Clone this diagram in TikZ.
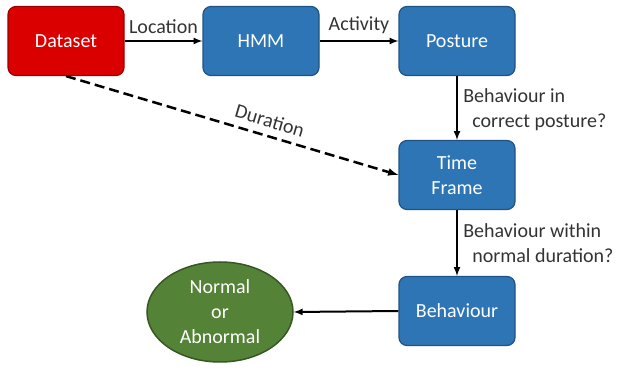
\documentclass[tikz,border=0pt]{standalone}
\usepackage{fontspec}
\setmainfont{Carlito}
\usetikzlibrary{arrows, positioning, shapes.geometric}
\usepackage{color}
\definecolor{datared}{rgb}{0.86, 0.0, 0.0}
\definecolor{datareddark}{rgb}{0.6, 0.0, 0.0}
\definecolor{stepblue}{rgb}{0.18, 0.46, 0.71}
\definecolor{stepbluedark}{rgb}{0.12, 0.32, 0.52}
\definecolor{resultgreen}{rgb}{0.33, 0.51, 0.21}
\definecolor{resultgreendark}{rgb}{0.22, 0.34, 0.14}

\begin{document}
\begin{tikzpicture}[x=1pt, y=1pt,
		every node/.style={font=\fontsize{20}{25}\selectfont},
		flowbox/.style={rectangle, rounded corners=8pt, minimum width=116pt, minimum height=69pt, line width=1.2pt, text=white, align=center},
		redbox/.style={flowbox, fill=datared, draw=datareddark},
		bluebox/.style={flowbox, fill=stepblue, draw=stepbluedark},
		resultoval/.style={ellipse, minimum width=146pt, minimum height=100pt, inner sep=0pt, fill=resultgreen, draw=resultgreendark, line width=1.5pt, text=white, align=center},
		flow/.style={->, >=latex, line width=2pt},
		edgelabel/.style={text=black!80, align=left}]
		\useasboundingbox (0,0) rectangle (621,372);
		
		\node [redbox] (dataset) at (66,331) {Dataset};
		\node [bluebox] (hmm) at (261,331) {HMM};
		\node [bluebox] (posture) at (457,331) {Posture};
		\node [bluebox] (timeframe) at (457,197) {Time\\Frame};
		\node [bluebox] (behaviour) at (457,61) {Behaviour};
		\node [resultoval] (result) at (220,60) {Normal\\or\\Abnormal};
		
		\draw [flow] (dataset.east) -- node [edgelabel, above=5pt, inner sep=1pt] {Location} (hmm.west);
		\draw [flow] (hmm.east) -- node [edgelabel, above=5pt, inner sep=1pt] {Activity} (posture.west);
		\draw [flow] (posture.south) -- node [edgelabel, right=2pt, yshift=-2pt] {Behaviour in\\\ \ correct posture?} (timeframe.north);
		\draw [flow] (timeframe.south) -- node [edgelabel, right=2pt] {Behaviour within\\\ \ normal duration?} (behaviour.north);
		\draw [flow] (behaviour.west) -- (result.east);
		\draw [flow, dash pattern=on 10pt off 5pt, line width=2.5pt] (dataset.south) -- node [edgelabel, sloped, above=4pt, pos=0.6] {Duration} (timeframe.west);
	\end{tikzpicture}
\end{document}
